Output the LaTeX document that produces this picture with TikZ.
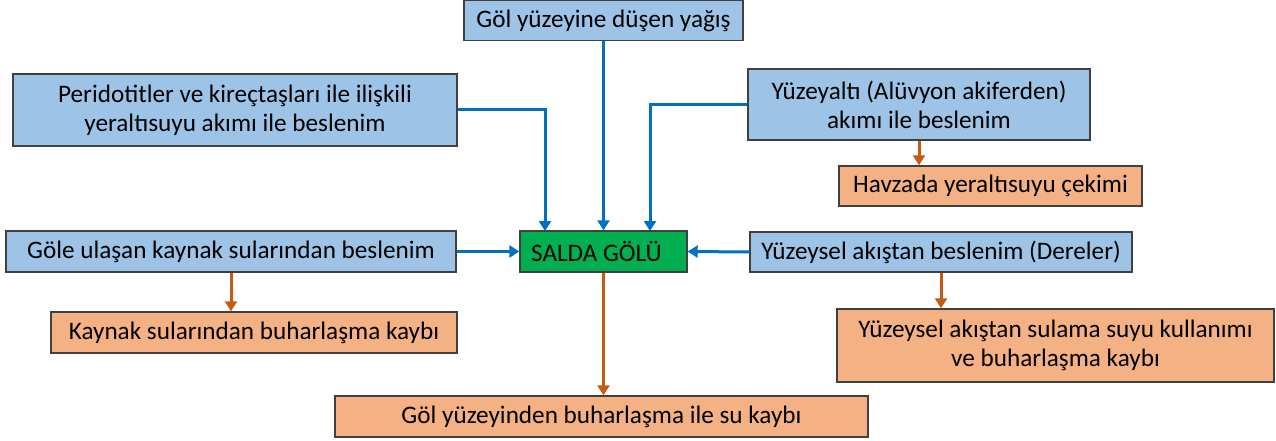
\documentclass[tikz,border=0pt]{standalone}
\usepackage{fontspec}
\setmainfont{Carlito}
\usepackage{tikz}
\usetikzlibrary{arrows.meta, positioning}
\definecolor{kutumavi}{HTML}{9DC3E6}
\definecolor{kututuruncu}{HTML}{F4B183}
\definecolor{golyesil}{HTML}{00B050}
\definecolor{okmavi}{HTML}{0070C0}
\definecolor{okturuncu}{HTML}{C55A11}
\definecolor{kenar}{HTML}{404040}

\begin{document}
\begin{tikzpicture}[x=1pt,y=-1pt,
    kutu/.style={draw=kenar, line width=1.4pt, inner sep=0pt, align=center,
        font=\fontsize{25.2}{29}\selectfont},
    girdi/.style={kutu, fill=kutumavi},
    kayip/.style={kutu, fill=kututuruncu},
    gol/.style={kutu, fill=golyesil},
    mavi/.style={okmavi, line width=3pt, -{Triangle[length=10pt,width=12pt]}},
    turuncu/.style={okturuncu, line width=3pt, -{Triangle[length=10pt,width=12pt]}}]
\useasboundingbox (0,0) rectangle (1276,441);

\node[gol, minimum width=167pt, minimum height=41pt] (salda) at (603.5,251.5)
    {\hspace*{-14pt}SALDA GÖLÜ};

\node[girdi, minimum width=279pt, minimum height=40pt] (yagis) at (603.5,20.5)
    {Göl yüzeyine düşen yağış};
\node[girdi, minimum width=444pt, minimum height=72pt] (peri) at (235,110)
    {Peridotitler ve kireçtaşları ile ilişkili\\yeraltısuyu akımı ile beslenim};
\node[girdi, minimum width=342pt, minimum height=71pt] (yuzalti) at (919,104.5)
    {Yüzeyaltı (Alüvyon akiferden)\\akımı ile beslenim};
\node[girdi, minimum width=450pt, minimum height=41pt] (gole) at (231,251.5)
    {Göle ulaşan kaynak sularından beslenim};
\node[girdi, minimum width=382pt, minimum height=40pt] (yuzey) at (941,252)
    {Yüzeysel akıştan beslenim (Dereler)};

\node[kayip, minimum width=303pt, minimum height=40pt] (havza) at (990.5,186)
    {Havzada yeraltısuyu çekimi};
\node[kayip, minimum width=406pt, minimum height=41pt] (kaynak) at (254,332.5)
    {Kaynak sularından buharlaşma kaybı};
\node[kayip, minimum width=437pt, minimum height=73pt] (sulama) at (1055.5,345.5)
    {Yüzeysel akıştan sulama suyu kullanımı\\ve buharlaşma kaybı};
\node[kayip, minimum width=533pt, minimum height=41pt] (golbuhar) at (601.5,416.5)
    {Göl yüzeyinden buharlaşma ile su kaybı};

\coordinate (saldaSol) at (545,231);
\coordinate (saldaSag) at (650,231);

\draw[mavi] (yagis.south) -- (yagis.south |- salda.north);
\draw[mavi] (peri.east) -| (saldaSol);
\draw[mavi] (yuzalti.west) -| (saldaSag);
\draw[mavi] (gole.east) -- (salda.west);
\draw[mavi] (yuzey.west) -- (salda.east);

\draw[turuncu] (salda.south) -- (salda.south |- golbuhar.north);
\draw[turuncu] (gole.south) -- (gole.south |- kaynak.north);
\draw[turuncu] (yuzey.south) -- (yuzey.south |- sulama.north);
\draw[turuncu] (yuzalti.south) -- (yuzalti.south |- havza.north);
\end{tikzpicture}
\end{document}
